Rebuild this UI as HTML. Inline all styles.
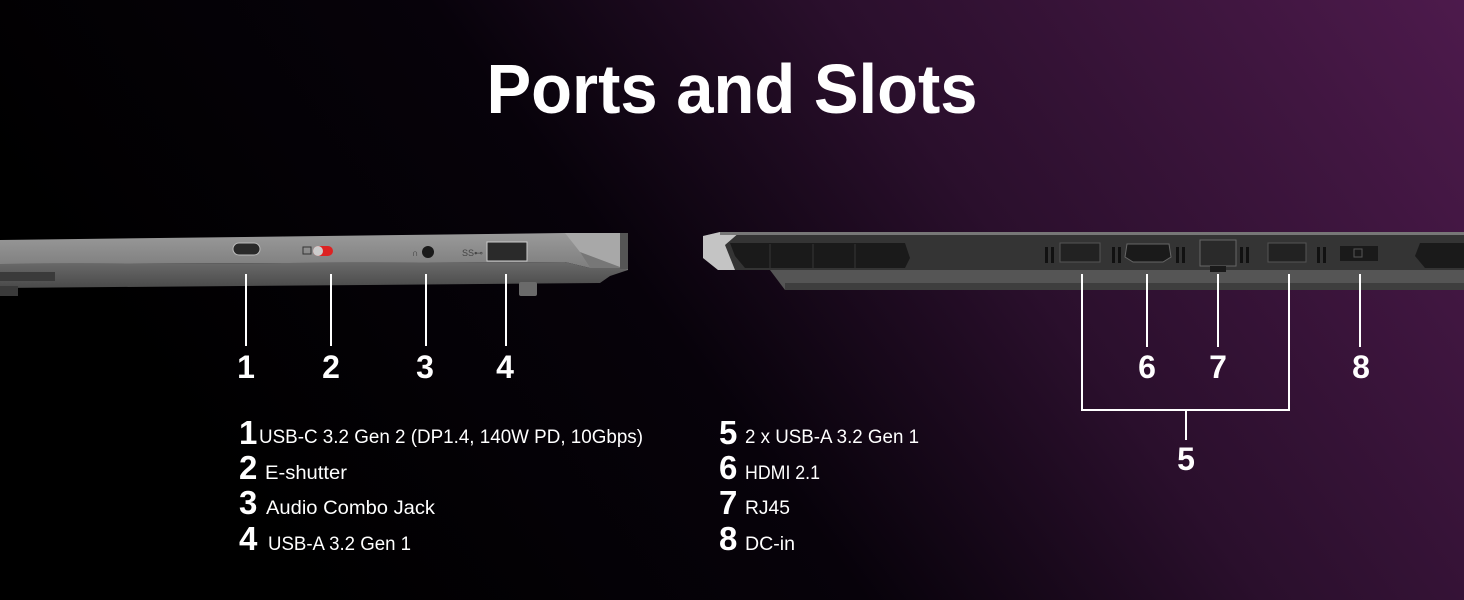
<!DOCTYPE html>
<html><head><meta charset="utf-8"><style>
html,body{margin:0;padding:0;background:#000;}
svg{display:block}
text{font-family:"Liberation Sans",sans-serif;fill:#fff}
</style></head><body>
<svg width="1464" height="600" viewBox="0 0 1464 600" xmlns="http://www.w3.org/2000/svg">
<defs>
<linearGradient id="bg" x1="0" y1="0.3" x2="1" y2="0">
<stop offset="0" stop-color="#000"/>
<stop offset="0.35" stop-color="#07020a"/>
<stop offset="0.6" stop-color="#2a0f2c"/>
<stop offset="1" stop-color="#4d1a4c"/>
</linearGradient>
<linearGradient id="topL" x1="0" y1="0" x2="0" y2="1"><stop offset="0" stop-color="#9a9a9a"/><stop offset="1" stop-color="#7e7e7e"/></linearGradient>
<linearGradient id="botL" x1="0" y1="0" x2="0" y2="1"><stop offset="0" stop-color="#6a6a6a"/><stop offset="1" stop-color="#4a4a4a"/></linearGradient>
</defs>
<rect width="1464" height="600" fill="url(#bg)"/>
<text x="732" y="113" font-size="70" font-weight="bold" text-anchor="middle" textLength="491" lengthAdjust="spacingAndGlyphs">Ports and Slots</text>

<!-- left laptop -->
<polygon points="0,240 565,233 620,233 628,236 628,268 590,268 565,262 0,264" fill="url(#topL)"/>
<polygon points="0,264 565,262 590,268 628,268 628,270 610,276 600,283 0,288" fill="url(#botL)"/>
<polygon points="565,233 628,233 628,268 590,268 580,252" fill="#a8a8a8"/>
<polygon points="580,252 590,268 628,268 628,270" fill="#777"/>
<rect x="620" y="233" width="8" height="36" fill="#555"/>
<rect x="0" y="272" width="55" height="9" fill="#3a3a3a"/>
<rect x="0" y="286" width="18" height="10" fill="#3a3a3a"/>
<rect x="519" y="282" width="18" height="14" rx="2" fill="#6a6a6a"/>
<rect x="233" y="243" width="27" height="12" rx="6" fill="#2a2a2a" stroke="#bbb" stroke-width="1"/>
<rect x="303" y="247" width="8" height="7" fill="none" stroke="#333"/>
<rect x="313" y="246" width="20" height="10" rx="5" fill="#d22"/>
<circle cx="318" cy="251" r="5" fill="#ccc"/>
<circle cx="428" cy="252" r="6" fill="#1a1a1a"/>
<text x="412" y="256" font-size="9" style="fill:#333">∩</text>
<text x="462" y="256" font-size="9" style="fill:#444">SS⊷</text>
<rect x="487" y="242" width="40" height="19" fill="#2a2a2a" stroke="#ccc" stroke-width="1"/>

<!-- right laptop -->
<polygon points="703,236 720,232 1464,232 1464,276 785,276 770,270 718,270 703,258" fill="#343434"/>
<polygon points="703,236 720,232 740,232 725,245 735,270 718,270 703,258" fill="#c4c4c4"/>
<rect x="720" y="232" width="744" height="3" fill="#777"/>
<polygon points="770,270 1464,270 1464,290 785,290" fill="#555"/>
<rect x="785" y="283" width="679" height="7" fill="#3e3e3e"/>
<polygon points="730,243 905,243 910,258 905,268 745,268 735,256" fill="#1a1a1a"/>
<g stroke="#2c2c2c" stroke-width="1.5">
<line x1="770" y1="244" x2="770" y2="268"/><line x1="813" y1="244" x2="813" y2="268"/><line x1="855" y1="244" x2="855" y2="268"/>
</g>
<polygon points="1420,243 1464,243 1464,268 1425,268 1415,256" fill="#1a1a1a"/>
<g fill="#111">
<rect x="1045" y="247" width="3" height="16"/><rect x="1051" y="247" width="3" height="16"/>
<rect x="1112" y="247" width="3" height="16"/><rect x="1118" y="247" width="3" height="16"/>
<rect x="1176" y="247" width="3" height="16"/><rect x="1182" y="247" width="3" height="16"/>
<rect x="1240" y="247" width="3" height="16"/><rect x="1246" y="247" width="3" height="16"/>
<rect x="1317" y="247" width="3" height="16"/><rect x="1323" y="247" width="3" height="16"/>
</g>
<rect x="1060" y="243" width="40" height="19" fill="#222" stroke="#555"/>
<polygon points="1127,244 1169,244 1171,257 1163,262 1133,262 1125,257" fill="#1a1a1a" stroke="#666"/>
<rect x="1200" y="240" width="36" height="26" fill="#2a2a2a" stroke="#666"/>
<rect x="1210" y="266" width="16" height="6" fill="#1a1a1a"/>
<rect x="1268" y="243" width="38" height="19" fill="#222" stroke="#555"/>
<rect x="1340" y="246" width="38" height="15" fill="#1a1a1a"/>
<rect x="1354" y="249" width="8" height="8" fill="none" stroke="#555"/>

<!-- lines -->
<g stroke="#fff" stroke-width="2" fill="none">
<line x1="246" y1="274" x2="246" y2="346"/>
<line x1="331" y1="274" x2="331" y2="346"/>
<line x1="426" y1="274" x2="426" y2="346"/>
<line x1="506" y1="274" x2="506" y2="346"/>
<line x1="1147" y1="274" x2="1147" y2="347"/>
<line x1="1218" y1="274" x2="1218" y2="347"/>
<line x1="1360" y1="274" x2="1360" y2="347"/>
<polyline points="1082,274 1082,410 1289,410 1289,274"/>
<line x1="1186" y1="410" x2="1186" y2="440"/>
</g>
<g font-size="32" font-weight="bold" text-anchor="middle">
<text x="246" y="378">1</text><text x="331" y="378">2</text><text x="425" y="378">3</text><text x="505" y="378">4</text>
<text x="1147" y="378">6</text><text x="1218" y="378">7</text><text x="1361" y="378">8</text>
<text x="1186" y="470">5</text>
</g>

<g font-size="33" font-weight="bold">
<text x="239" y="444">1</text><text x="239" y="479">2</text><text x="239" y="514">3</text><text x="239" y="550">4</text>
<text x="719" y="444">5</text><text x="719" y="479">6</text><text x="719" y="514">7</text><text x="719" y="550">8</text>
</g>
<g font-size="19" lengthAdjust="spacingAndGlyphs">
<text x="259" y="443" textLength="384" lengthAdjust="spacingAndGlyphs">USB-C 3.2 Gen 2 (DP1.4, 140W PD, 10Gbps)</text>
<text x="265" y="479" textLength="82" lengthAdjust="spacingAndGlyphs">E-shutter</text>
<text x="266" y="514" textLength="169" lengthAdjust="spacingAndGlyphs">Audio Combo Jack</text>
<text x="268" y="550" textLength="143" lengthAdjust="spacingAndGlyphs">USB-A 3.2 Gen 1</text>
<text x="745" y="443" textLength="174" lengthAdjust="spacingAndGlyphs">2 x USB-A 3.2 Gen 1</text>
<text x="745" y="479" textLength="75" lengthAdjust="spacingAndGlyphs">HDMI 2.1</text>
<text x="745" y="514" textLength="45" lengthAdjust="spacingAndGlyphs">RJ45</text>
<text x="745" y="550" textLength="50" lengthAdjust="spacingAndGlyphs">DC-in</text>
</g>
</svg>
</body></html>
